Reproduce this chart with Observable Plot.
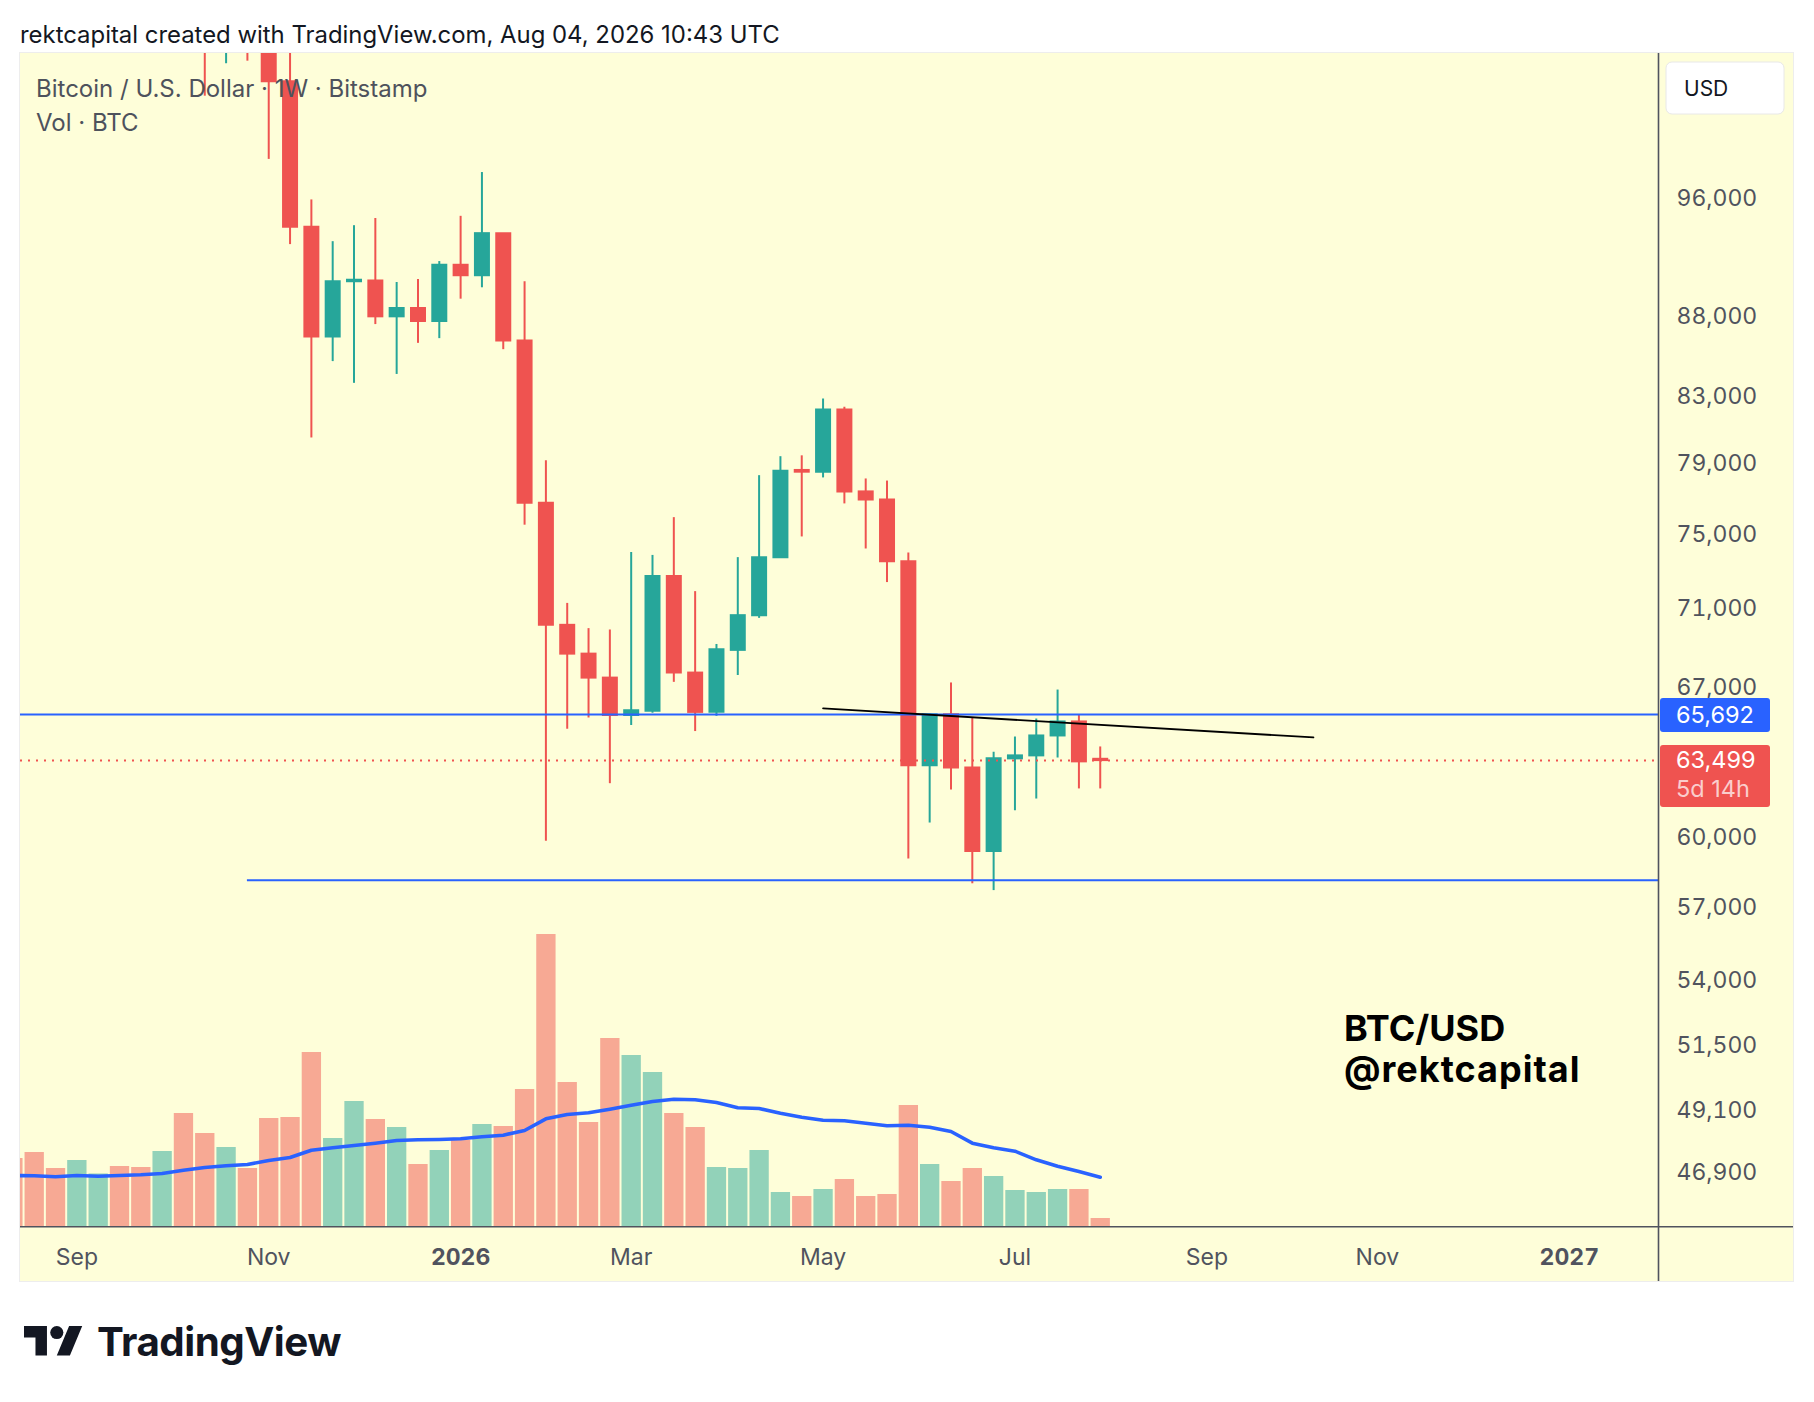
<!DOCTYPE html>
<html><head><meta charset="utf-8">
<script src="https://cdn.jsdelivr.net/npm/d3@7"></script>
<script src="https://cdn.jsdelivr.net/npm/@observablehq/plot@0.6"></script>
<style>
 html,body{margin:0;padding:0;background:#fff;}
 #root{position:relative;width:1814px;height:1402px;overflow:hidden;font-family:Inter,"Noto Sans",sans-serif;}
 #panel{position:absolute;left:19px;top:52px;width:1773px;height:1228px;background:#FEFED9;border:1px solid #EDEDED;}
 .layer{position:absolute;left:20px;top:53px;}
 #overlay{position:absolute;left:0;top:0;}
</style></head>
<body><div id="root"><div id="panel"></div><div id="vol" class="layer"></div><div id="price" class="layer"></div><svg id="overlay" width="1814" height="1402"></svg></div>
<script>
// ---- data ----
const weeks = ["2025-08-11","2025-08-18","2025-08-25","2025-09-01","2025-09-08","2025-09-15","2025-09-22","2025-09-29","2025-10-06","2025-10-13","2025-10-20","2025-10-27","2025-11-03","2025-11-10","2025-11-17","2025-11-24","2025-12-01","2025-12-08","2025-12-15","2025-12-22","2025-12-29","2026-01-05","2026-01-12","2026-01-19","2026-01-26","2026-02-02","2026-02-09","2026-02-16","2026-02-23","2026-03-02","2026-03-09","2026-03-16","2026-03-23","2026-03-30","2026-04-06","2026-04-13","2026-04-20","2026-04-27","2026-05-04","2026-05-11","2026-05-18","2026-05-25","2026-06-01","2026-06-08","2026-06-15","2026-06-22","2026-06-29","2026-07-06","2026-07-13","2026-07-20","2026-07-27","2026-08-03"];
const opens = [119300,117400,113500,108250,111150,115300,115250,112150,123500,115100,108600,114500,110500,104600,94000,86700,90300,90350,88000,88540,87700,91400,90700,93550,86450,76730,70140,68670,67470,65640,65840,72700,67720,65800,68860,70640,73720,78600,78500,82170,77370,76910,73500,63260,65680,63160,59390,63580,63720,64660,65330,63560];
const highs = [124450,117600,113600,113400,116800,117900,115400,125700,126200,115900,114900,116400,110700,107500,95900,93000,94100,94600,90250,90450,91650,94750,97850,93550,90300,79170,71280,69970,69900,74000,73840,75920,71900,69160,73720,78300,79400,79450,82840,82340,78110,77990,73970,65700,67230,65520,63890,64610,65470,66880,65670,64140];
const lows = [116800,110700,107300,107300,110650,114800,108600,111600,107500,103500,106000,106200,98800,92800,80500,85150,83800,87500,84350,86300,86600,89150,89900,85900,75500,59840,64980,65520,62430,65160,65750,67260,64870,65600,67600,70500,73680,74850,78170,76690,74190,72380,59070,60650,62140,58000,57710,61200,61730,63620,62190,62190];
const closes = [117400,113500,108250,111150,115300,115250,112150,123500,115100,108600,114500,110500,104600,94000,86700,90300,90400,88000,88540,87700,91400,90700,93550,86450,76730,70140,68670,67470,65640,65870,72700,67720,65790,68890,70640,73720,78550,78500,82170,77370,76910,73500,63260,65680,63160,59390,63580,63720,64660,65330,63440,63499];
const volumes = [3400,3700,2900,3300,2630,3000,2950,3750,5650,4650,3950,2900,5400,5450,8700,4400,6250,5350,4950,3100,3800,4300,5100,5000,6850,14600,7200,5200,9400,8550,7700,5650,4950,2950,2900,3800,1700,1500,1850,2350,1500,1600,6050,3100,2250,2900,2500,1800,1700,1850,1850,400];
const volumeMA = [2550,2535,2485,2550,2515,2550,2585,2650,2815,2950,3035,3100,3300,3450,3815,3935,4050,4165,4300,4335,4350,4385,4485,4565,4800,5385,5600,5685,5865,6065,6250,6365,6335,6200,5935,5900,5665,5465,5315,5285,5165,5035,5065,4965,4750,4165,3935,3765,3335,3015,2750,2465];
const priceTicks = [96000,88000,83000,79000,75000,71000,67000,60000,57000,54000,51500,49100,46900];
const monthTicks = ["2025-09-01","2025-11-03","2026-03-02","2026-05-04","2026-07-06","2026-09-07","2026-11-02"];
const monthLabels = ["Sep","Nov","Mar","May","Jul","Sep","Nov"];
const yearTicks = ["2026-01-05","2027-01-04"];
const yearLabels = ["2026","2027"];
const resistance = 65692;
const support = 58150;
const supportStart = "2025-10-27";
const lastPrice = 63499;
const countdown = "5d 14h";
const trendDates = ["2026-05-04","2026-10-12"];
const trendPrices = [65980, 64590];

// ---- build ----
const bars = weeks.map((w,i)=>({date:new Date(w),open:opens[i],high:highs[i],low:lows[i],close:closes[i],volume:volumes[i],ma:volumeMA[i]}));
const trend = trendDates.map((d,i)=>({date:new Date(d),price:trendPrices[i]}));
const supportLine = [{y:support,x1:new Date(supportStart),x2:new Date("2027-02-02T07:00Z")}];
const up = "#26A69A", down = "#EF5350";
const col = d => d.close >= d.open ? up : down;
const W = 1773, H = 1228, mR = 135, mB = 55;
const xDomain = [new Date("2025-08-13T12:00Z"), new Date("2027-02-02T07:00Z")];
const monthMap = new Map(monthTicks.map((d,i)=>[+new Date(d), monthLabels[i]]));
const yearMap = new Map(yearTicks.map((d,i)=>[+new Date(d), yearLabels[i]]));
const font = "Inter, 'Noto Sans', sans-serif";

const vol = Plot.plot({
  width: W, height: H, marginLeft: 0, marginRight: mR, marginTop: 0, marginBottom: mB,
  style: {background: "transparent"},
  x: {type: "utc", domain: xDomain, axis: null},
  y: {domain: [0, 58650], axis: null},
  color: {type: "identity"},
  marks: [
    Plot.ruleX(bars, {x: "date", y1: 0, y2: "volume", stroke: col, strokeOpacity: 0.5, strokeWidth: 19.3, clip: true}),
    Plot.line(bars, {x: "date", y: "ma", stroke: "#2962FF", strokeWidth: 3.6, clip: true})
  ]
});
document.getElementById("vol").appendChild(vol);

const price = Plot.plot({
  width: W, height: H, marginLeft: 0, marginRight: mR, marginTop: 0, marginBottom: mB,
  style: {background: "transparent", color: "#50535E", fontFamily: font, overflow: "visible"},
  x: {type: "utc", domain: xDomain},
  y: {type: "log", domain: [45080, 106801]},
  color: {type: "identity"},
  marks: [
    Plot.ruleX(bars, {x: "date", y1: "low", y2: "high", stroke: col, strokeWidth: 2, clip: true}),
    Plot.ruleX(bars, {x: "date", y1: d => Math.max(d.open, d.close), y2: d => Math.min(d.open, d.close), stroke: col, strokeWidth: 16, insetTop: -1, insetBottom: -1, clip: true}),
    Plot.ruleY([resistance], {stroke: "#2962FF", strokeWidth: 2}),
    Plot.ruleY(supportLine, {y: "y", x1: "x1", x2: "x2", stroke: "#2962FF", strokeWidth: 2, clip: true}),
    Plot.ruleY([lastPrice], {stroke: down, strokeWidth: 2, strokeDasharray: "2,6"}),
    Plot.line(trend, {x: "date", y: "price", stroke: "#000", strokeWidth: 1.8}),
    Plot.axisY({anchor: "right", ticks: priceTicks, tickFormat: d3.format(","), tickSize: 0, tickPadding: 18, fontSize: 23, label: null}),
    Plot.axisX({ticks: monthTicks.map(d => new Date(d)), tickFormat: d => monthMap.get(+d), tickSize: 0, tickPadding: 22, fontSize: 23, label: null}),
    Plot.axisX({ticks: yearTicks.map(d => new Date(d)), tickFormat: d => yearMap.get(+d), tickSize: 0, tickPadding: 22, fontSize: 23, fontWeight: "bold", label: null})
  ]
});
document.getElementById("price").appendChild(price);

// ---- overlay ----
const ys = v => 53 + price.scale("y").apply(v);
const ov = d3.select("#overlay").style("font-family", font);
ov.append("line").attr("x1",1658.5).attr("x2",1658.5).attr("y1",53).attr("y2",1281).attr("stroke","#50535E").attr("stroke-width",1.6);
ov.append("line").attr("x1",20).attr("x2",1793).attr("y1",1226.8).attr("y2",1226.8).attr("stroke","#50535E").attr("stroke-width",1.6);
ov.append("text").attr("x",20).attr("y",43).attr("font-size",23.9).attr("fill","#131722").text("rektcapital created with TradingView.com, Aug 04, 2026 10:43 UTC");
ov.append("text").attr("x",36).attr("y",97).attr("font-size",24).attr("fill","#4E525C").text("Bitcoin / U.S. Dollar · 1W · Bitstamp");
ov.append("text").attr("x",36).attr("y",131).attr("font-size",24).attr("fill","#4E525C").text("Vol · BTC");
ov.append("text").attr("x",1344).attr("y",1041).attr("font-size",36).attr("font-weight",700).attr("fill","#000").text("BTC/USD");
ov.append("text").attr("x",1344).attr("y",1082).attr("font-size",36).attr("font-weight",700).attr("letter-spacing",1).attr("fill","#000").text("@rektcapital");
ov.append("rect").attr("x",1666).attr("y",62).attr("width",118).attr("height",52).attr("rx",6).attr("fill","#fff").attr("stroke","#E8E8E8");
ov.append("text").attr("x",1684).attr("y",96).attr("font-size",21).attr("fill","#131722").text("USD");
const yb = ys(resistance);
ov.append("rect").attr("x",1660).attr("y",yb-16).attr("width",110).attr("height",34).attr("rx",3).attr("fill","#2962FF");
ov.append("text").attr("x",1676).attr("y",yb+9).attr("font-size",23.5).attr("fill","#fff").text(d3.format(",")(resistance));
const yr = ys(lastPrice);
ov.append("rect").attr("x",1660).attr("y",yr-15).attr("width",110).attr("height",62).attr("rx",3).attr("fill",down);
ov.append("text").attr("x",1676).attr("y",yr+8).attr("font-size",23.5).attr("fill","#fff").text(d3.format(",")(lastPrice));
ov.append("text").attr("x",1676).attr("y",yr+37).attr("font-size",23.5).attr("fill","rgba(255,255,255,0.72)").text(countdown);
const logo = ov.append("g").attr("transform","translate(24,1326) scale(1.64) translate(0,-4)");
logo.append("path").attr("d","M14 22H7V11H0V4h14v18zM28 22h-8l7.5-18h8L28 22z").attr("fill","#131722");
logo.append("circle").attr("cx",20).attr("cy",8).attr("r",4).attr("fill","#131722");
ov.append("text").attr("x",97).attr("y",1356).attr("font-size",40.3).attr("font-weight",700).attr("letter-spacing",-0.5).attr("fill","#131722").text("TradingView");
</script></body></html>
